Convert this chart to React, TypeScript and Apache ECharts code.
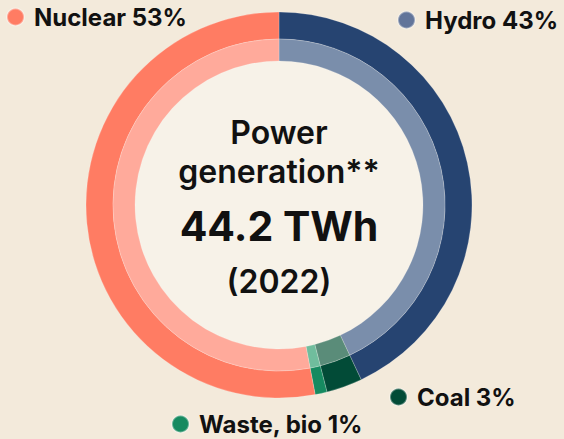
import React, { useEffect, useRef } from "react";
import * as echarts from "echarts";

const categories = ["Hydro", "Coal", "Waste, bio", "Nuclear"];
const shares = [43, 3, 1, 53];
const outerColors = ["#264471", "#024b37", "#168a60", "#ff7c63"];
const innerColors = ["#7a8eab", "#5a8c79", "#70bd9d", "#ffaa9b"];
const legendDotColors = ["#62759a", "#024b37", "#168a60", "#ff7c63"];
const centerLines = ["Power", "generation**", "44.2 TWh", "(2022)"];

const legendPos: Record<string, { left: number; top: number }> = {
  Nuclear: { left: 6, top: 5 },
  Hydro: { left: 397, top: 8 },
  Coal: { left: 389, top: 385 },
  "Waste, bio": { left: 171, top: 412 },
};

export default function App() {
  const ref = useRef<HTMLDivElement>(null);
  useEffect(() => {
    document.body.style.margin = "0";
    document.body.style.background = "#f3eadb";
    const chart = echarts.init(ref.current!, undefined, { renderer: "svg" });
    const cx = 279;
    const cy = 205;
    const font = "Inter, 'Noto Sans', sans-serif";
    const legends = categories.map((name, i) => ({
      show: true,
      orient: "horizontal",
      left: legendPos[name].left,
      top: legendPos[name].top,
      padding: 0,
      data: [{ name, icon: "circle", itemStyle: { color: legendDotColors[i] } }],
      selectedMode: false,
      itemWidth: 17,
      itemHeight: 17,
      formatter: () => `${name} ${shares[i]}%`,
      textStyle: {
        fontFamily: font,
        fontWeight: 700,
        fontSize: 24,
        color: "#111111",
        lineHeight: 24,
        padding: [0, 0, 0, 5],
      },
    }));
    const makeData = (colors: string[]) =>
      categories.map((name, i) => ({
        name,
        value: shares[i],
        itemStyle: { color: colors[i] },
      }));
    const centerYs = [132, 171, 226, 281];
    const centerSizes = [32, 32, 41, 32];
    chart.setOption({
      animation: false,
      backgroundColor: "#f3eadb",
      legend: legends,
      graphic: [
        {
          type: "circle",
          shape: { cx, cy, r: 144 },
          style: { fill: "#f7f2e8" },
          z: 0,
          silent: true,
        },
        ...centerLines.map((t, i) => ({
          type: "text",
          x: cx,
          y: centerYs[i],
          z: 10,
          silent: true,
          style: {
            text: t,
            fontFamily: font,
            fontWeight: i === 2 ? 700 : 600,
            fontSize: centerSizes[i],
            fill: "#111111",
            align: "center",
            verticalAlign: "middle",
          },
        })),
      ],
      series: [
        {
          type: "pie",
          radius: [166, 193],
          center: [cx, cy],
          startAngle: 90,
          clockwise: true,
          label: { show: false },
          labelLine: { show: false },
          silent: true,
          itemStyle: { borderColor: "rgba(255,255,255,0.35)", borderWidth: 0.6 },
          data: makeData(outerColors),
        },
        {
          type: "pie",
          radius: [144, 166],
          center: [cx, cy],
          startAngle: 90,
          clockwise: true,
          label: { show: false },
          labelLine: { show: false },
          silent: true,
          itemStyle: { borderColor: "rgba(255,255,255,0.35)", borderWidth: 0.6 },
          data: makeData(innerColors),
        },
      ],
    });
    return () => chart.dispose();
  }, []);
  return <div ref={ref} style={{ width: 564, height: 439 }} />;
}
